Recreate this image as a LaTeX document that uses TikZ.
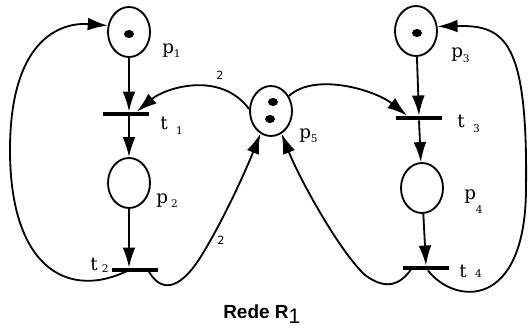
\documentclass[tikz,border=0pt]{standalone}
\usepackage{fontspec}
\setmainfont{DejaVu Serif}
\newfontfamily\titlefont{Liberation Sans}
\newfontfamily\weightfont{DejaVu Sans}
\usetikzlibrary{shapes.geometric,arrows.meta,calc}

\begin{document}
\begin{tikzpicture}[x=0.025cm,y=-0.025cm,
    place/.style={draw,ellipse,line width=1.3pt,minimum width=1.05cm,minimum height=1.25cm,inner sep=0pt},
    trans/.style={fill=black,minimum width=1.125cm,minimum height=0.11cm,inner sep=0pt},
    arc/.style={line width=1.3pt,-{Latex[length=5mm,width=3.2mm]}},
    lbl/.style={anchor=base west,inner sep=0pt,font=\fontsize{13}{13}\selectfont},
    wgt/.style={inner sep=0pt,font=\weightfont\fontsize{8}{8}\selectfont}]
    \useasboundingbox (0,0) rectangle (528,329);
    % places
    \node[place] (p1) at (129,32) {};
    \node[place] (p2) at (129,183) {};
    \node[place] (p3) at (416,31) {};
    \node[place] (p4) at (422,188) {};
    \node[place] (p5) at (271,111) {};
    % tokens
    \fill (129,34) ellipse [x radius=5,y radius=4];
    \fill (417,33) ellipse [x radius=5,y radius=4];
    \fill (273,102) ellipse [x radius=5,y radius=4];
    \fill (270,119) ellipse [x radius=5,y radius=4];
    % transitions
    \node[trans] (t1) at (126,114) {};
    \node[trans] (t2) at (135,270) {};
    \node[trans] (t3) at (419,118) {};
    \node[trans] (t4) at (426,268) {};
    % labels
    \node[lbl] (lp1) at (162,53) {p\raisebox{-3pt}{\fontsize{7.5}{7.5}\selectfont 1}};
    \node[lbl] (lp2) at (156,203) {p\,\raisebox{-3pt}{\fontsize{7.5}{7.5}\selectfont 2}};
    \node[lbl] (lp3) at (451,58) {p\raisebox{-3pt}{\fontsize{7.5}{7.5}\selectfont 3}};
    \node[lbl] (lp4) at (464,199) {p\raisebox{-10pt}{\fontsize{7.5}{7.5}\selectfont 4}};
    \node[lbl] (lp5) at (299,138) {p\raisebox{-3pt}{\fontsize{7.5}{7.5}\selectfont 5}};
    \node[lbl] (lt1) at (160,130) {t\hspace{6pt}\raisebox{-3.5pt}{\fontsize{7.5}{7.5}\selectfont 1}};
    \node[lbl] (lt2) at (90,270) {t\hspace{3pt}\raisebox{-1.5pt}{\fontsize{7.5}{7.5}\selectfont 2}};
    \node[lbl] (lt3) at (457,127) {t\hspace{6pt}\raisebox{-4pt}{\fontsize{7.5}{7.5}\selectfont 3}};
    \node[lbl] (lt4) at (459,277) {t\hspace{6pt}\raisebox{-0.5pt}{\fontsize{7.5}{7.5}\selectfont 4}};
    \node[wgt] (w1) at (220,75) {2};
    \node[wgt] (w2) at (221,240) {2};
    \node[anchor=base west,inner sep=0pt,font=\titlefont\bfseries\fontsize{13.5}{14}\selectfont] (title) at (223,318)
        {Rede R\raisebox{-4pt}{\mdseries\fontsize{15}{15}\selectfont 1}};
    % straight arcs
    \draw[arc] (p1) -- (p1 |- t1.north);
    \draw[arc] (p2 |- t1.south) -- (p2);
    \draw[arc] (p2) -- (p2 |- t2.north);
    \draw[arc] (p3) -- (t3.north);
    \draw[arc] (t3.south) -- (p4);
    \draw[arc] (p4) -- (t4.north);
    % curved arcs
    \draw[arc] (p2 |- t2) .. controls (70,300) and (10,270) .. (10,150)
        .. controls (10,40) and (60,22) .. (p1.163);
    \draw[arc] ($(t2)+(13,0)$) .. controls (160,292) and (178,292) .. (200,258)
        .. controls (225,218) and (248,165) .. (p5.-115);
    \draw[arc] (p5.175) .. controls (220,70) and (165,88) .. ($(t1.north)+(11,0)$);
    \draw[arc] (p5.40) .. controls (315,72) and (375,90) .. ($(t3.north)+(-12,0)$);
    \draw[arc] ($(t4)+(-14,0)$) .. controls (400,286) and (385,290) .. (365,275)
        .. controls (340,252) and (300,180) .. (p5.-65);
    \draw[arc] (t4) .. controls (455,305) and (525,310) .. (526,190)
        .. controls (528,40) and (505,25) .. (p3.12);
\end{tikzpicture}
\end{document}
